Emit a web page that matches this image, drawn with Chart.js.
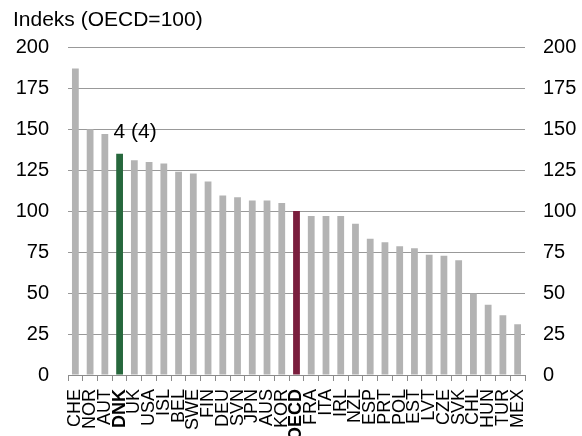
<!DOCTYPE html>
<html>
<head>
<meta charset="utf-8">
<script src="https://cdn.jsdelivr.net/npm/chart.js@4.4.1/dist/chart.umd.min.js"></script>
<style>
  html, body { margin: 0; padding: 0; background: #fff; }
</style>
</head>
<body>
<canvas id="chart" width="582" height="436"></canvas>
<script>
const countries = ['CHE', 'NOR', 'AUT', 'DNK', 'UK', 'USA', 'ISL', 'BEL', 'SWE', 'FIN', 'DEU', 'SVN', 'JPN', 'AUS', 'KOR', 'OECD',
    'FRA', 'ITA', 'IRL', 'NZL', 'ESP', 'PRT', 'POL', 'EST', 'LVT', 'CZE', 'SVK', 'CHL', 'HUN', 'TUR', 'MEX'];
const indexValues = [187, 150, 147, 135, 131, 130, 129, 124, 123, 118, 109.5, 108.5, 106.5, 106.5, 105, 100,
    97, 97, 97, 92.3, 83.2, 81, 78.5, 77.3, 73.4, 72.8, 70, 49.7, 42.8, 36.5, 31];
const yTicks = [0, 25, 50, 75, 100, 125, 150, 175, 200];
const boldLabels = ['DNK', 'OECD'];
const rankCountry = 'DNK';
const rankLabel = '4 (4)';
const titleText = 'Indeks (OECD=100)';

const fontFamily = "'Liberation Sans', Arial, sans-serif";
const barColors = countries.map(c => c === 'DNK' ? '#27683d' : (c === 'OECD' ? '#7a1e3d' : '#b3b3b3'));

// writes the rank text next to the DNK bar
const rankPlugin = {
    id: 'rankLabel',
    afterDatasetsDraw(chart) {
        const x = chart.scales.x;
        const y = chart.scales.y;
        const ctx = chart.ctx;
        const i = countries.indexOf(rankCountry);
        ctx.save();
        ctx.font = '21px ' + fontFamily;
        ctx.fillStyle = '#000';
        ctx.textAlign = 'left';
        ctx.textBaseline = 'alphabetic';
        ctx.fillText(rankLabel, x.getPixelForValue(i) - 6, y.getPixelForValue(144.5));
        ctx.restore();
    }
};

const setTicks = scale => { scale.ticks = yTicks.map(v => ({ value: v })); };

new Chart(document.getElementById('chart').getContext('2d'), {
    type: 'bar',
    data: {
        labels: countries,
        datasets: [{
            data: indexValues,
            backgroundColor: barColors,
            barPercentage: 0.46,
            categoryPercentage: 1,
        }],
    },
    options: {
        responsive: false,
        animation: false,
        layout: { padding: { left: 13, right: 0, top: 0, bottom: 0 } },
        plugins: {
            legend: { display: false },
            tooltip: { enabled: false },
            title: {
                display: true,
                text: titleText,
                align: 'start',
                color: '#000',
                font: { family: fontFamily, size: 21, weight: 'normal', lineHeight: 1.2 },
                padding: { top: 8, bottom: 14 },
            },
        },
        scales: {
            x: {
                grid: { display: true, drawOnChartArea: false, drawTicks: true, tickLength: 6, color: '#8c8c8c', offset: true },
                border: { display: true, color: '#8c8c8c' },
                ticks: {
                    autoSkip: false,
                    minRotation: 90,
                    maxRotation: 90,
                    padding: 8,
                    color: '#000',
                    font: ctx => ({
                        family: fontFamily,
                        size: 18,
                        weight: boldLabels.includes(countries[ctx.index]) ? 'bold' : 'normal',
                    }),
                },
                afterFit: s => { s.height = 61; },
            },
            y: {
                position: 'left',
                min: 0,
                max: 200,
                afterBuildTicks: setTicks,
                grid: { color: '#999999', drawTicks: false },
                border: { display: false },
                ticks: { padding: 19, color: '#000', font: { family: fontFamily, size: 20 } },
                afterFit: s => { s.width = 55; },
            },
            y2: {
                position: 'right',
                min: 0,
                max: 200,
                afterBuildTicks: setTicks,
                grid: { display: false, drawTicks: false },
                border: { display: false },
                ticks: { padding: 18, color: '#000', font: { family: fontFamily, size: 20 } },
                afterFit: s => { s.width = 57; },
            },
        },
    },
    plugins: [rankPlugin],
});
</script>
</body>
</html>
